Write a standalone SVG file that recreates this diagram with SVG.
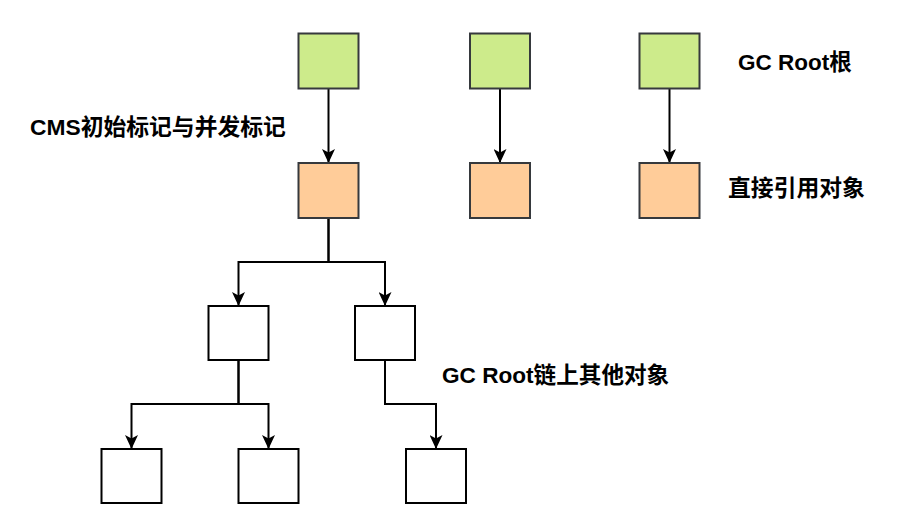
<svg xmlns="http://www.w3.org/2000/svg" width="907" height="529" viewBox="0 0 907 529">
<style>
.g{fill:#cdeb8b;stroke:#36393d;stroke-width:2}
.o{fill:#ffcc99;stroke:#36393d;stroke-width:2}
.w{fill:#ffffff;stroke:#000000;stroke-width:2}
.c{fill:none;stroke:#000000;stroke-width:2}
.t{font-family:"Liberation Sans","Noto Sans CJK SC",sans-serif;font-weight:bold;fill:#000000}
</style>
<defs>
<marker id="arr" markerWidth="14" markerHeight="13" refX="14" refY="6.5" orient="auto" markerUnits="userSpaceOnUse">
<path d="M0,0 L14,6.5 L0,13 L3.5,6.5 Z" fill="#000000"/>
</marker>
</defs>
<rect width="907" height="529" fill="#ffffff"/>
<g id="connectors">
<path class="c" d="M328.5,88.5 V163" marker-end="url(#arr)"/>
<path class="c" d="M500,88.5 V163" marker-end="url(#arr)"/>
<path class="c" d="M669.5,88.5 V163" marker-end="url(#arr)"/>
<path class="c" d="M328.5,218 V262 H238.5 V306" marker-end="url(#arr)"/>
<path class="c" d="M328.5,218 V262 H385 V306" marker-end="url(#arr)"/>
<path class="c" d="M238.5,360 V404 H131.5 V449" marker-end="url(#arr)"/>
<path class="c" d="M238.5,360 V404 H268.5 V449" marker-end="url(#arr)"/>
<path class="c" d="M385,360 V404 H436 V449" marker-end="url(#arr)"/>
</g>
<g id="root1"><rect class="g" x="298.5" y="33.5" width="60" height="55"/></g>
<g id="root2"><rect class="g" x="470" y="33.5" width="60" height="55"/></g>
<g id="root3"><rect class="g" x="639.5" y="33.5" width="60" height="55"/></g>
<g id="direct1"><rect class="o" x="298.5" y="163" width="60" height="55"/></g>
<g id="direct2"><rect class="o" x="470" y="163" width="60" height="55"/></g>
<g id="direct3"><rect class="o" x="639.5" y="163" width="60" height="55"/></g>
<g id="objA"><rect class="w" x="208.5" y="306" width="60" height="54"/></g>
<g id="objB"><rect class="w" x="355" y="306" width="60" height="54"/></g>
<g id="objC"><rect class="w" x="101.5" y="449" width="60" height="54"/></g>
<g id="objD"><rect class="w" x="238.5" y="449" width="60" height="54"/></g>
<g id="objE"><rect class="w" x="406" y="449" width="60" height="54"/></g>
<g id="label-cms"><text class="t" x="30" y="135" font-size="22.8">CMS初始标记与并发标记</text></g>
<g id="label-root"><text class="t" x="738" y="70" font-size="22.5">GC Root根</text></g>
<g id="label-direct"><text class="t" x="728" y="196" font-size="22.8">直接引用对象</text></g>
<g id="label-chain"><text class="t" x="442" y="383" font-size="22.6">GC Root链上其他对象</text></g>
</svg>
